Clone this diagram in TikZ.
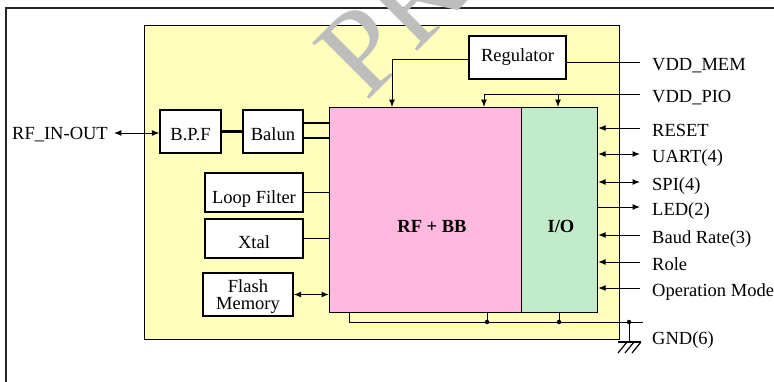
\documentclass[tikz,border=0pt]{standalone}
\usepackage{fontspec}
\setmainfont{Liberation Serif}
\usetikzlibrary{arrows.meta}
\definecolor{ylw}{RGB}{255,255,187}
\definecolor{pnk}{RGB}{255,184,222}
\definecolor{grn}{RGB}{194,235,201}
\definecolor{wmk}{RGB}{190,190,190}
\newcommand{\lowr}[2]{\raisebox{-#1}[\height][\depth]{#2}}
\begin{document}
\begin{tikzpicture}[x=1pt,y=-1pt, font=\fontsize{18.5}{20}\selectfont,
  box/.style={draw, line width=1.2pt, fill=white, inner sep=0pt},
  blk/.style={draw, line width=1.2pt, inner sep=0pt, anchor=north west},
  tip/.style={-{Latex[length=7.5pt,width=6pt]}},
  dtip/.style={{Latex[length=7.5pt,width=6pt]}-{Latex[length=7.5pt,width=6pt]}},
  thinln/.style={line width=1pt},
  thkln/.style={line width=1.8pt},
  sig/.style={anchor=west, inner xsep=12pt, inner ysep=0pt, text height=16pt, text depth=0pt},
  dot/.style={circle, fill, inner sep=0pt, minimum size=4.5pt}]
\useasboundingbox (0,0) rectangle (774,381);
\begin{scope}
  \clip (0,0) rectangle (774,381);
  \draw[line width=1.2pt, black!85] (6,8) rectangle (800,420);
  \node[blk, fill=ylw, minimum width=475pt, minimum height=314pt] (chip) at (144,25) {};
  \node[wmk, rotate=45, anchor=base west, inner sep=0pt, font=\fontsize{122}{122}\selectfont] (wmark) at (366,103) {PR};
\end{scope}

% main blocks
\node[blk, fill=pnk, minimum width=192pt, minimum height=205pt] (rfbb) at (329,107) {};
\node[blk, fill=grn, minimum width=76pt, minimum height=205pt] (io) at (521,107) {};
\node[font=\fontsize{18.5}{20}\selectfont\bfseries] (rfbbt) at (432,226.5) {RF + BB};
\node[font=\fontsize{18.5}{20}\selectfont\bfseries] (iot) at (561,226.5) {I/O};

% small boxes
\node[box, minimum width=97pt, minimum height=43pt] (reg) at (517.5,57.5) {Regulator};
\node[box, minimum width=61pt, minimum height=43pt] (bpf) at (190.5,131.5) {\lowr{3pt}{B.P.F}};
\node[box, minimum width=60pt, minimum height=43pt] (balun) at (273,131.5) {\lowr{3pt}{Balun}};
\node[box, minimum width=98pt, minimum height=39pt] (loop) at (254,192.5) {\lowr{7pt}{Loop Filter}};
\node[box, minimum width=98pt, minimum height=39pt] (xtal) at (254,238.5) {\lowr{4pt}{Xtal}};
\node[box, minimum width=90pt, minimum height=43pt, align=center, font=\fontsize{18.5}{17}\selectfont] (flash) at (248,294.5) {\rule{0pt}{17.6pt}Flash\\Memory};

% left label
\node[anchor=west, inner xsep=6pt, inner ysep=0pt, text height=13.2pt, text depth=0pt] (rfio) at (6,133) {RF\_IN-OUT};

% right labels
\node[sig] (vmem) at (640,62) {VDD\_MEM};
\node[sig] (vpio) at (640,94) {VDD\_PIO};
\node[sig] (reset) at (640,128) {RESET};
\node[sig] (uart) at (640,154) {UART(4)};
\node[sig] (spi) at (640,182) {SPI(4)};
\node[sig] (led) at (640,207) {LED(2)};
\node[sig] (baud) at (640,235) {Baud Rate(3)};
\node[sig] (role) at (640,262) {Role};
\node[sig] (opm) at (640,288) {Operation Mode};
\node[sig] (gndl) at (640,336) {GND(6)};

% helper coordinates
\coordinate (c392) at (392,0);
\coordinate (c484) at (484,0);
\coordinate (c558) at (558,94);
\coordinate (gl) at (349,322);
\coordinate (gr) at (643,322);
\coordinate (g1) at (487,322);
\coordinate (g2) at (559,322);
\coordinate (g3) at (629,322);
\coordinate (gnd) at (629,342);

% left side connectors
\draw[thinln, dtip] (rfio.east) -- (rfio.east -| bpf.west);
\draw[line width=2.4pt] (bpf.east) -- (balun.west);
\draw[thkln] ([yshift=8.5pt]balun.east) -- ([yshift=8.5pt]balun.east -| rfbb.west);
\draw[thkln] ([yshift=-6.5pt]balun.east) -- ([yshift=-6.5pt]balun.east -| rfbb.west);
\draw[thkln] (loop.east) -- (loop.east -| rfbb.west);
\draw[thkln] (xtal.east) -- (xtal.east -| rfbb.west);
\draw[line width=1.4pt, dtip] (flash.east) -- (flash.east -| rfbb.west);

% power
\draw[thinln, tip] ([yshift=-1.5pt]reg.west) -| (c392 |- rfbb.north);
\draw[thinln] (reg.east |- vmem.west) -- (vmem.west);
\draw[thinln, tip] (vpio.west) -| (c484 |- rfbb.north);
\draw[thinln, tip] (c558) -- (c558 |- io.north);

% signals
\draw[thinln, tip] (reset.west) -- (reset.west -| io.east);
\draw[thinln, dtip] (uart.west) -- (uart.west -| io.east);
\draw[thinln, dtip] (spi.west) -- (spi.west -| io.east);
\draw[thinln, tip] (led.west -| io.east) -- (led.west);
\draw[thinln, tip] (baud.west) -- (baud.west -| io.east);
\draw[thinln, tip] (role.west) -- (role.west -| io.east);
\draw[thinln, tip] (opm.west) -- (opm.west -| io.east);

% ground
\draw[thinln] (gl |- rfbb.south) -- (gl) -- (gr);
\draw[thinln] (g1 |- rfbb.south) -- (g1);
\draw[thinln] (g2 |- io.south) -- (g2);
\node[dot] (d1) at (g1) {};
\node[dot] (d2) at (g2) {};
\node[dot] (d3) at (g3) {};
\draw[thinln] (d3) -- (gnd);
\draw[line width=1.2pt] ([xshift=-11pt]gnd) -- ([xshift=12pt]gnd);
\foreach \dx in {-2,5,12}
  \draw[line width=1.2pt] ([xshift=\dx pt]gnd) -- ([xshift=\dx pt-9pt, yshift=-11pt]gnd);
\end{tikzpicture}
\end{document}
